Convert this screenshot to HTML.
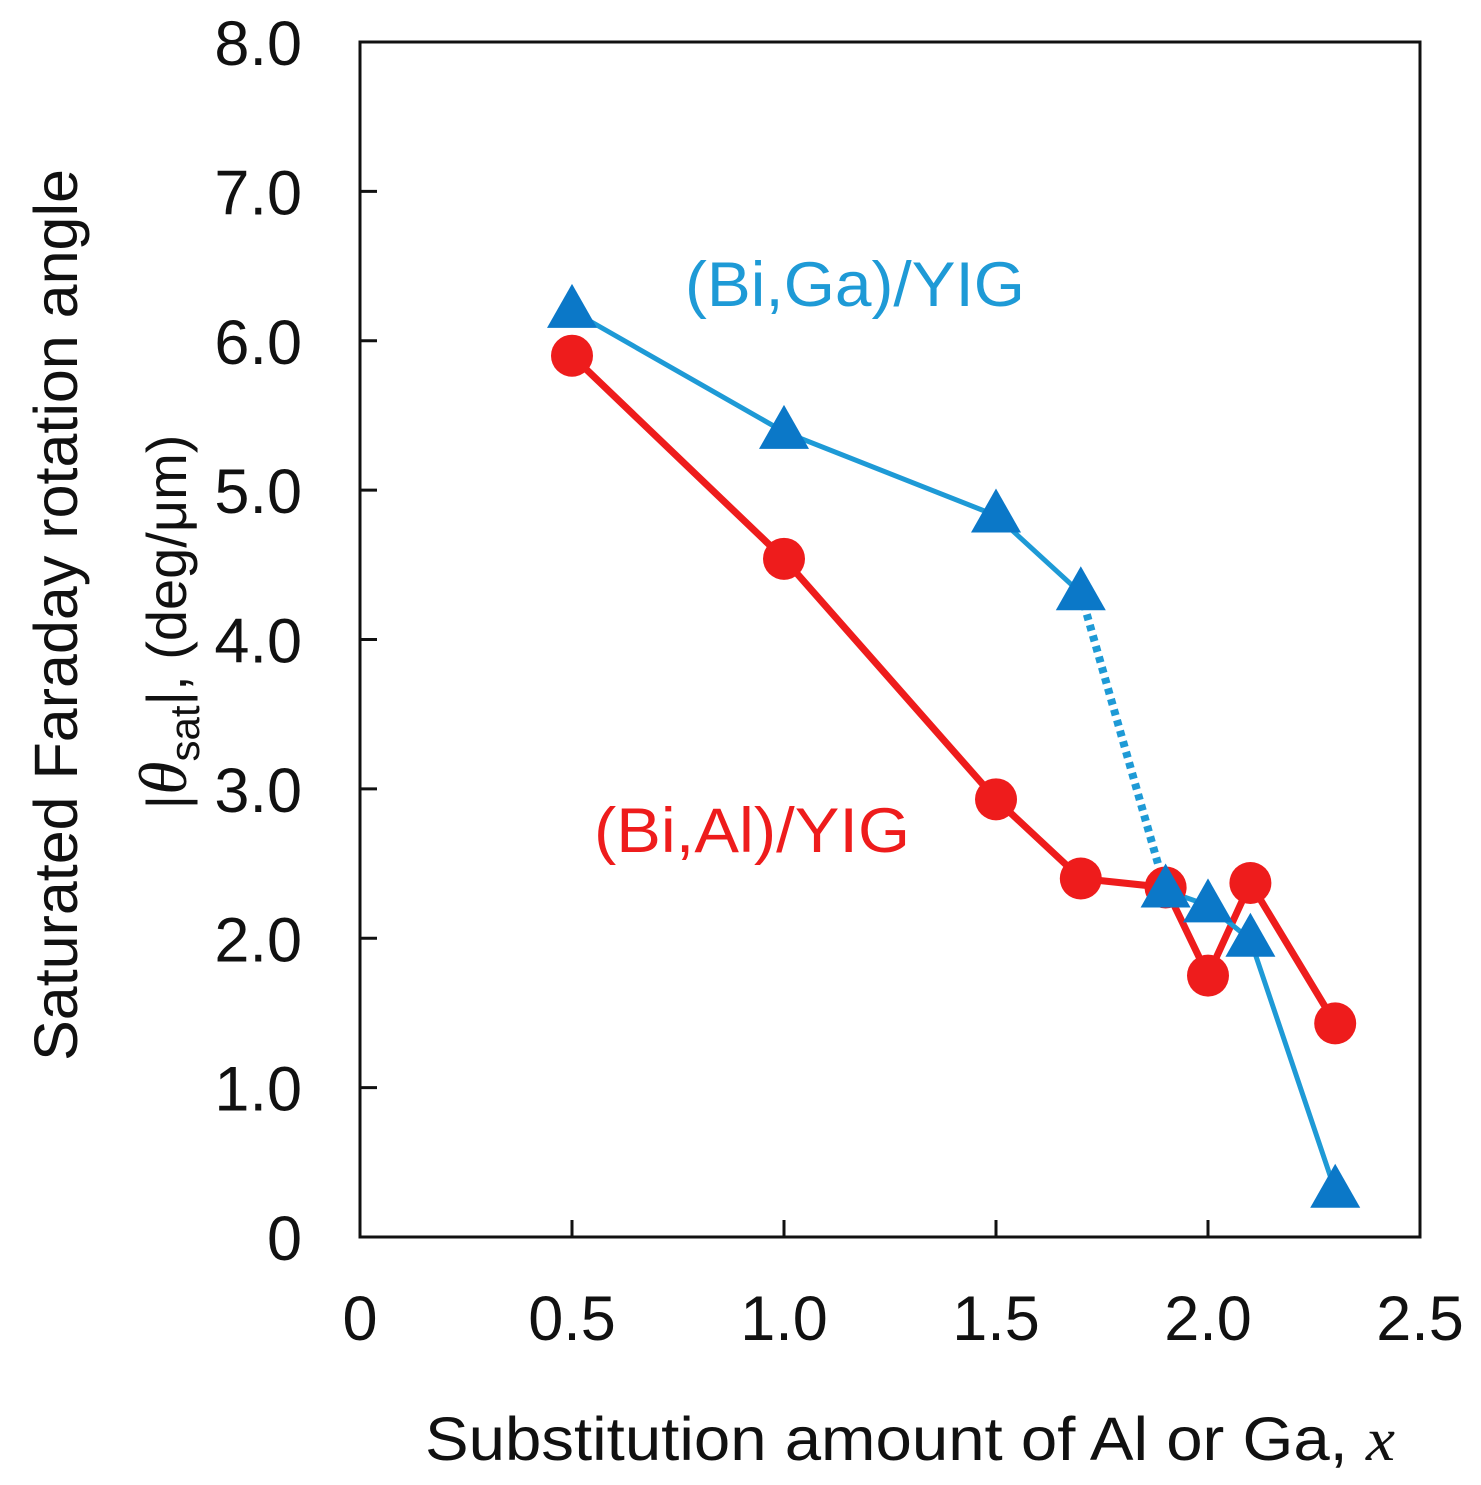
<!DOCTYPE html>
<html><head><meta charset="utf-8"><style>
html,body{margin:0;padding:0;background:#fff;}
svg{display:block;font-family:"Liberation Sans",Arial,sans-serif;}
</style></head><body>
<svg id="chart" width="1481" height="1485">
<g id="axes"></g><g id="series"></g>
</svg>
<script>
const xCats=[0.5,1.0,1.5,1.7,1.9,2.0,2.1,2.3];
const alValues=[5.9,4.54,2.93,2.4,2.34,1.75,2.37,1.43];
const gaValues=[6.2,5.39,4.83,4.31,2.32,2.22,1.99,0.31];
const yTicks=[0,1,2,3,4,5,6,7,8];
const yTickLabels=["0","1.0","2.0","3.0","4.0","5.0","6.0","7.0","8.0"];
const xTicks=[0,0.5,1.0,1.5,2.0,2.5];
const xTickLabels=["0","0.5","1.0","1.5","2.0","2.5"];

const L=360,R=1420,T=42,B=1237;
const sx=v=>L+(v/2.5)*(R-L);
const sy=v=>B-(v/8)*(B-T);
const NS="http://www.w3.org/2000/svg";
function mk(tag,attrs,parent,txt){const e=document.createElementNS(NS,tag);for(const k in attrs)e.setAttribute(k,attrs[k]);if(txt!==undefined)e.textContent=txt;parent.appendChild(e);return e;}
const ax=document.getElementById('axes'), se=document.getElementById('series');

let box=mk('rect',{x:L,y:T,width:R-L,height:B-T,fill:'none',stroke:'#111','stroke-width':3},ax);


yTicks.forEach((v,i)=>{
  let t=mk('line',{x1:L,x2:L+17,y1:sy(v),y2:sy(v),stroke:'#111','stroke-width':3},ax);
  
  
  let lb=mk('text',{x:302,y:sy(v)+23,'text-anchor':'end','font-size':63,fill:'#111'},ax,yTickLabels[i]);
  
  
});
xTicks.forEach((v,i)=>{
  let t=mk('line',{x1:sx(v),x2:sx(v),y1:B,y2:B-17,stroke:'#111','stroke-width':3},ax);
  
  
  let lb=mk('text',{x:sx(v),y:1340,'text-anchor':'middle','font-size':63,fill:'#111'},ax,xTickLabels[i]);
  
  
});
let xt=mk('text',{x:425,y:1460,'font-size':61,'textLength':970,'lengthAdjust':'spacingAndGlyphs',fill:'#111'},ax);


xt.innerHTML='Substitution amount of Al or Ga, <tspan font-family="Liberation Serif" font-style="italic">x</tspan>';
let yt1=mk('text',{x:0,y:0,transform:'translate(77,615) rotate(-90)','text-anchor':'middle','font-size':61,fill:'#111'},ax,'Saturated Faraday rotation angle');


let yt2=mk('text',{x:0,y:0,transform:'translate(186,622) rotate(-90)','text-anchor':'middle','font-size':56,fill:'#111'},ax);


yt2.innerHTML='|<tspan font-family="Liberation Serif" font-style="italic" font-size="68">θ</tspan><tspan font-size="42" dy="13">sat</tspan><tspan dy="-13">|, (deg/μm)</tspan>';

const RED='#ee1c1c', BL='#1e9ad6', BT='#0b78c8';
let ap=xCats.map((x,i)=>sx(x)+','+sy(alValues[i])).join(' ');
let al=mk('polyline',{points:ap,fill:'none',stroke:RED,'stroke-width':7,'stroke-linejoin':'round'},se);


let g1=xCats.slice(0,4).map((x,i)=>sx(x)+','+sy(gaValues[i])).join(' ');
let g2=xCats.slice(4).map((x,i)=>sx(x)+','+sy(gaValues[i+4])).join(' ');
let gl1=mk('polyline',{points:g1,fill:'none',stroke:BL,'stroke-width':5},se);


let gl2=mk('polyline',{points:g2,fill:'none',stroke:BL,'stroke-width':5},se);


let gd=mk('line',{x1:sx(xCats[3]),y1:sy(gaValues[3]),x2:sx(xCats[4]),y2:sy(gaValues[4]),stroke:BL,'stroke-width':8,'stroke-dasharray':'6 5'},se);


xCats.forEach((x,i)=>{
  let c=mk('circle',{cx:sx(x),cy:sy(alValues[i]),r:21,fill:RED},se);
  
  
});
xCats.forEach((x,i)=>{
  const cx=sx(x),cy=sy(gaValues[i]);
  let p=mk('polygon',{points:`${cx},${cy-27} ${cx-25},${cy+17} ${cx+25},${cy+17}`,fill:BT},se);
  
  
});
let lg=mk('text',{x:685,y:306,'font-size':63,'textLength':340,'lengthAdjust':'spacingAndGlyphs',fill:BL},se,'(Bi,Ga)/YIG');


let la=mk('text',{x:594,y:852,'font-size':63,'textLength':316,'lengthAdjust':'spacingAndGlyphs',fill:RED},se,'(Bi,Al)/YIG');


</script>
</body></html>
